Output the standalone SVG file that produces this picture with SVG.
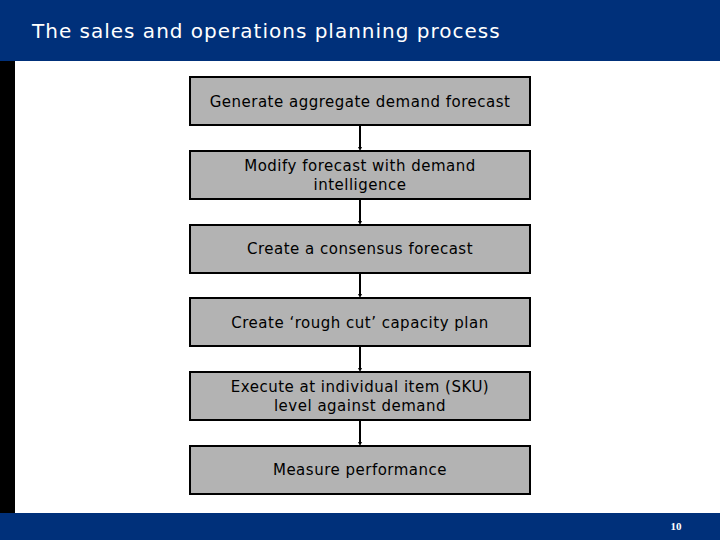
<svg xmlns="http://www.w3.org/2000/svg" width="720" height="540" viewBox="0 0 720 540">
<style>
.box{fill:#B3B3B3;stroke:#000;stroke-width:2}
.t{font-family:"DejaVu Sans",Verdana,sans-serif;font-size:15px;letter-spacing:0.5px;fill:#000;text-anchor:middle}
.c{stroke:#000;stroke-width:2;fill:none;marker-end:url(#ah)}
</style>
<defs>
<marker id="ah" markerWidth="4" markerHeight="4" refX="2" refY="2" markerUnits="userSpaceOnUse" orient="auto">
<path d="M0,0 L4,2 L0,4 z" fill="#000"/>
</marker>
</defs>
<rect x="0" y="0" width="720" height="540" fill="#fff"/>
<rect x="0" y="0" width="720" height="61" fill="#00307A"/>
<rect x="0" y="61" width="15" height="452" fill="#000"/>
<rect x="0" y="513" width="720" height="27" fill="#00307A"/>
<text x="32" y="38" font-family="DejaVu Sans,Verdana,sans-serif" font-size="20" letter-spacing="1" fill="#fff">The sales and operations planning process</text>
<text x="676" y="530" font-family="Liberation Serif,serif" font-size="11" font-weight="bold" fill="#fff" text-anchor="middle">10</text>
<g id="connectors">
<line class="c" x1="360" y1="125" x2="360" y2="149"/>
<line class="c" x1="360" y1="199" x2="360" y2="223"/>
<line class="c" x1="360" y1="273" x2="360" y2="296"/>
<line class="c" x1="360" y1="346" x2="360" y2="370"/>
<line class="c" x1="360" y1="420" x2="360" y2="444"/>
</g>
<g id="n1"><rect class="box" x="190" y="77" width="340" height="48"/><text class="t" x="360" y="107">Generate aggregate demand forecast</text></g>
<g id="n2"><rect class="box" x="190" y="151" width="340" height="48"/><text class="t" x="360" y="171">Modify forecast with demand</text><text class="t" x="360" y="190">intelligence</text></g>
<g id="n3"><rect class="box" x="190" y="225" width="340" height="48"/><text class="t" x="360" y="254">Create a consensus forecast</text></g>
<g id="n4"><rect class="box" x="190" y="298" width="340" height="48"/><text class="t" x="360" y="328">Create ‘rough cut’ capacity plan</text></g>
<g id="n5"><rect class="box" x="190" y="372" width="340" height="48"/><text class="t" x="360" y="392">Execute at individual item (SKU)</text><text class="t" x="360" y="411">level against demand</text></g>
<g id="n6"><rect class="box" x="190" y="446" width="340" height="48"/><text class="t" x="360" y="475">Measure performance</text></g>
</svg>
